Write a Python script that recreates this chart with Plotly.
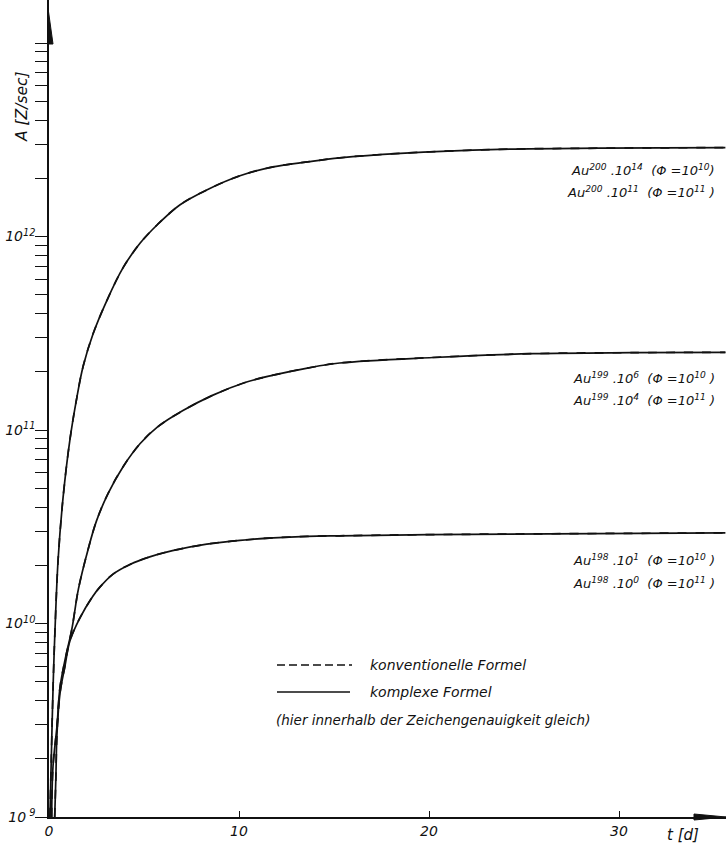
import plotly.graph_objects as go

# ---- data (t in days, A in Z/sec) ----
t_au200 = [0.05, 0.12, 0.22, 0.32, 0.48, 0.74, 1.1, 1.47, 1.8, 2.33, 3.05, 3.9, 4.8, 5.7,
           6.9, 8.3, 10.05, 11.8, 13.6, 15.3, 18.5, 23.7, 29.0, 35.6]
A_au200 = [1.0e9, 2.0e9, 4.9e9, 9.5e9, 2.14e10, 4.47e10, 8.9e10, 1.48e11, 2.14e11, 3.16e11,
           4.68e11, 6.9e11, 9.25e11, 1.15e12, 1.46e12, 1.74e12, 2.06e12, 2.29e12, 2.43e12,
           2.55e12, 2.69e12, 2.82e12, 2.86e12, 2.88e12]

t_au199 = [0.14, 0.21, 0.42, 0.58, 0.84, 1.2, 1.55, 2.05, 2.5, 3.1, 3.9, 4.8, 5.7, 7.05,
           8.6, 10.4, 11.8, 13.6, 15.3, 20.2, 25.5, 30.7, 35.6]
A_au199 = [1.0e9, 1.82e9, 2.95e9, 4.68e9, 6.46e9, 9.33e9, 1.51e10, 2.4e10, 3.39e10, 4.68e10,
           6.46e10, 8.51e10, 1.035e11, 1.26e11, 1.51e11, 1.77e11, 1.92e11, 2.09e11, 2.22e11,
           2.37e11, 2.48e11, 2.51e11, 2.52e11]

t_au198 = [0.3, 0.36, 0.42, 0.58, 0.84, 1.1, 1.63, 2.3, 2.7, 3.37, 4.26, 5.3, 6.5, 8.3,
           10.05, 11.8, 13.6, 15.3, 20.0, 35.6]
A_au198 = [1.0e9, 1.58e9, 2.69e9, 4.37e9, 6.03e9, 8.13e9, 1.07e10, 1.38e10, 1.55e10, 1.8e10,
           2.02e10, 2.21e10, 2.38e10, 2.57e10, 2.69e10, 2.77e10, 2.82e10, 2.84e10, 2.88e10, 2.94e10]

x_ticks = [0, 10, 20, 30]
x_ticklabels = ["0", "10", "20", "30"]
y_decades = [9, 10, 11, 12]
y_decade_labels = ["10<sup> 9</sup>", "10<sup>10</sup>", "10<sup>11</sup>", "10<sup>12</sup>"]

curve_labels = [
    ("Au<sup>200</sup> .10<sup>14</sup>  (Φ =10<sup>10</sup>)", "Au<sup>200</sup> .10<sup>11</sup>  (Φ =10<sup>11</sup> )"),
    ("Au<sup>199</sup> .10<sup>6</sup>  (Φ =10<sup>10</sup> )", "Au<sup>199</sup> .10<sup>4</sup>  (Φ =10<sup>11</sup> )"),
    ("Au<sup>198</sup> .10<sup>1</sup>  (Φ =10<sup>10</sup> )", "Au<sup>198</sup> .10<sup>0</sup>  (Φ =10<sup>11</sup> )"),
]
legend_texts = ["konventionelle Formel", "komplexe Formel",
                "(hier innerhalb der Zeichengenauigkeit gleich)"]

FONT = "DejaVu Sans"
INK = "#111111"

fig = go.Figure()
for t, A in [(t_au200, A_au200), (t_au199, A_au199), (t_au198, A_au198)]:
    # conventional formula (dashed) and complex formula (solid) coincide
    fig.add_trace(go.Scatter(x=t, y=A, mode="lines", showlegend=False, hoverinfo="skip",
                             line=dict(color=INK, width=1.7, dash="dash", shape="spline", smoothing=1.0)))
    fig.add_trace(go.Scatter(x=t, y=A, mode="lines", showlegend=False,
                             line=dict(color=INK, width=1.7, shape="spline", smoothing=1.0)))

# log ticks: labelled decades + minor ticks (2..9 per decade, plus 10^13)
y_tickvals = [10.0 ** d for d in y_decades]
y_ticktext = ["<i>" + s + "</i>" for s in y_decade_labels]
y_minor = []
for d in y_decades:
    for m in range(2, 10):
        y_minor.append(m * 10.0 ** d)
y_minor.append(10.0 ** 13)

W, H = 726, 848
L, B = 49, 31
PW, PH = W - L, H - B


def px(xp):
    return (xp - L) / PW


def py(yp):
    return (H - B - yp) / PH


fig.update_layout(
    width=W, height=H,
    margin=dict(l=L, r=0, t=0, b=B, pad=0),
    paper_bgcolor="white", plot_bgcolor="white",
    font=dict(family=FONT, color=INK, size=13),
    xaxis=dict(range=[0, PW / 19.0], showline=True, linecolor=INK, linewidth=1.5,
               ticks="inside", ticklen=6, tickcolor=INK, tickwidth=1.2,
               tickvals=x_ticks, ticktext=["<i>" + s + "</i>" for s in x_ticklabels],
               tickfont=dict(size=14), showgrid=False, zeroline=False),
    yaxis=dict(type="log", range=[9, 9 + PH / 193.5], showline=True, linecolor=INK, linewidth=1.5,
               ticks="outside", ticklen=12, tickcolor=INK, tickwidth=1.2,
               tickvals=y_tickvals, ticktext=y_ticktext, tickfont=dict(size=14),
               ticklabelstandoff=-3,
               minor=dict(tickvals=y_minor, ticks="outside", ticklen=12, tickcolor=INK,
                          tickwidth=1.2, showgrid=False),
               showgrid=False, zeroline=False),
)

ann = []
# axis titles
ann.append(dict(x=px(22), y=py(107), xref="paper", yref="paper", text="<i>A [Z/sec]</i>",
                textangle=-90, xanchor="center", yanchor="middle", showarrow=False,
                font=dict(size=15.5)))
ann.append(dict(x=px(683), y=py(835), xref="paper", yref="paper", text="<i>t [d]</i>",
                xanchor="center", yanchor="middle", showarrow=False, font=dict(size=15)))
# curve labels
label_rows = [(170, 192), (378, 400), (560, 583)]
for (l1, l2), (y1, y2) in zip(curve_labels, label_rows):
    for txt, yy in ((l1, y1), (l2, y2)):
        ann.append(dict(x=px(717), y=py(yy), xref="paper", yref="paper", text="<i>" + txt + "</i>",
                        xanchor="right", yanchor="middle", showarrow=False, font=dict(size=13)))
# legend
ann.append(dict(x=px(368), y=py(665), xref="paper", yref="paper", text="<i>" + legend_texts[0] + "</i>",
                xanchor="left", yanchor="middle", showarrow=False, font=dict(size=14)))
ann.append(dict(x=px(368), y=py(692), xref="paper", yref="paper", text="<i>" + legend_texts[1] + "</i>",
                xanchor="left", yanchor="middle", showarrow=False, font=dict(size=14)))
ann.append(dict(x=px(274), y=py(720), xref="paper", yref="paper", text="<i>" + legend_texts[2] + "</i>",
                xanchor="left", yanchor="middle", showarrow=False, font=dict(size=13.5)))
fig.update_layout(annotations=ann)

shapes = [
    dict(type="line", xref="paper", yref="paper", x0=px(277), x1=px(352), y0=py(665), y1=py(665),
         line=dict(color=INK, width=1.3, dash="8px,4px")),
    dict(type="line", xref="paper", yref="paper", x0=px(277), x1=px(350), y0=py(692), y1=py(692),
         line=dict(color=INK, width=1.3)),
    # arrow heads on axes
    dict(type="path", xref="paper", yref="paper",
         path=f"M {px(48)},{py(8)} L {px(53)},{py(44)} L {px(48)},{py(44)} Z",
         fillcolor=INK, line=dict(color=INK, width=1)),
    dict(type="path", xref="paper", yref="paper",
         path=f"M {px(726)},{py(817)} L {px(694)},{py(814)} L {px(694)},{py(820)} Z",
         fillcolor=INK, line=dict(color=INK, width=1)),
]
fig.update_layout(shapes=shapes)

fig.write_html("out.html")
